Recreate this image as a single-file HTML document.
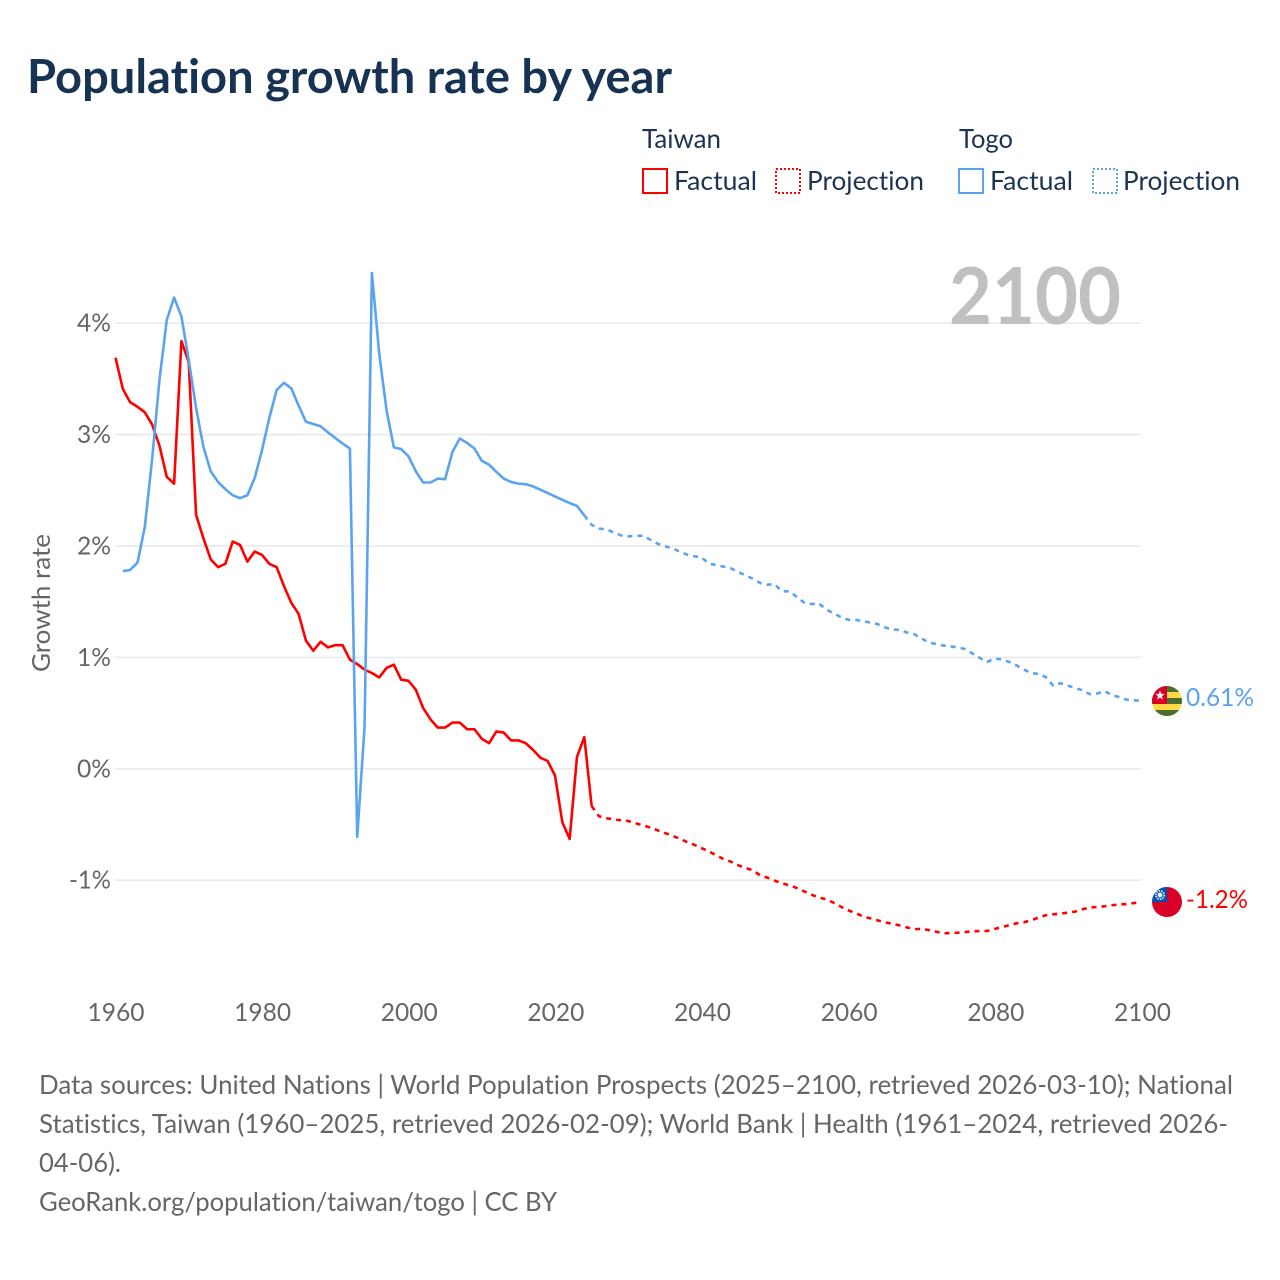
<!DOCTYPE html>
<html lang="en">
<head>
<meta charset="utf-8">
<title>Population growth rate by year</title>
<style>
  html, body { margin: 0; padding: 0; background: #fff; }
  body { width: 1280px; height: 1280px; overflow: hidden; }
  svg { display: block; }
  text { font-family: "Lato", "Carlito", "Liberation Sans", sans-serif; font-variant-ligatures: none; }
</style>
</head>
<body>
<svg id="chart" xmlns="http://www.w3.org/2000/svg" width="1280" height="1280" viewBox="0 0 1280 1280">
  <rect x="0" y="0" width="1280" height="1280" fill="#ffffff"/>
  <text x="27" y="93" font-size="47" font-weight="700" fill="#173353" textLength="645" lengthAdjust="spacingAndGlyphs">Population growth rate by year</text>

  <g font-size="26" fill="#1c3352">
    <text x="642" y="148" textLength="79" lengthAdjust="spacingAndGlyphs">Taiwan</text>
    <text x="959" y="148" textLength="54" lengthAdjust="spacingAndGlyphs">Togo</text>
    <g>
      <rect x="643" y="169" width="24" height="24" fill="none" stroke="#ff0000" stroke-width="2"/>
      <text x="674" y="190" textLength="83" lengthAdjust="spacingAndGlyphs">Factual</text>
    </g>
    <g>
      <rect x="776" y="169" width="24" height="24" fill="none" stroke="#ff0000" stroke-width="2" stroke-dasharray="2 2"/>
      <text x="807" y="190" textLength="117" lengthAdjust="spacingAndGlyphs">Projection</text>
    </g>
    <g>
      <rect x="959" y="169" width="24" height="24" fill="none" stroke="#5ba3ee" stroke-width="2"/>
      <text x="990" y="190" textLength="83" lengthAdjust="spacingAndGlyphs">Factual</text>
    </g>
    <g>
      <rect x="1093" y="169" width="24" height="24" fill="none" stroke="#5ba3ee" stroke-width="2" stroke-dasharray="2 2"/>
      <text x="1123" y="190" textLength="117" lengthAdjust="spacingAndGlyphs">Projection</text>
    </g>
  </g>

  <g id="grid"></g>
  <text x="949" y="324" font-size="79" font-weight="700" fill="#bfc0bf" textLength="172" lengthAdjust="spacingAndGlyphs">2100</text>
  <g id="yLabels" font-size="25" fill="#666666"></g>
  <g id="xLabels" font-size="25" fill="#666666"></g>
  <text transform="translate(50 603) rotate(-90)" text-anchor="middle" font-size="25" fill="#666666" textLength="138" lengthAdjust="spacingAndGlyphs">Growth rate</text>
  <g id="series"></g>

  <g>
    <clipPath id="clipTogo"><circle cx="1167" cy="701" r="15"/></clipPath>
    <g clip-path="url(#clipTogo)">
      <rect x="1152" y="686" width="30" height="30" fill="#ffda44"/>
      <rect x="1152" y="686" width="30" height="6" fill="#496e2d"/>
      <rect x="1152" y="698" width="30" height="6" fill="#496e2d"/>
      <rect x="1152" y="710" width="30" height="6" fill="#496e2d"/>
      <rect x="1152" y="686" width="15" height="18" fill="#d80027"/>
      <polygon points="1160,690.5 1161.3,693.9 1164.8,693.9 1162,696.1 1163,699.5 1160,697.5 1157,699.5 1158,696.1 1155.2,693.9 1158.7,693.9" fill="#f0f0f0"/>
    </g>
    <text x="1186" y="706" font-size="25" fill="#5ba3ee" textLength="68" lengthAdjust="spacingAndGlyphs">0.61%</text>
  </g>
  <g>
    <clipPath id="clipTaiwan"><circle cx="1167" cy="902" r="15"/></clipPath>
    <g clip-path="url(#clipTaiwan)">
      <rect x="1152" y="887" width="30" height="30" fill="#d80027"/>
      <rect x="1152" y="887" width="15" height="15" fill="#0052b4"/>
      <circle cx="1160" cy="895" r="4.2" fill="none" stroke="#f0f0f0" stroke-width="1.6" stroke-dasharray="1.6 1"/>
      <circle cx="1160" cy="895" r="2.4" fill="#f0f0f0"/>
    </g>
    <text x="1186" y="908" font-size="25" fill="#ff0000" textLength="62" lengthAdjust="spacingAndGlyphs">-1.2%</text>
  </g>

  <g font-size="26" fill="#666666">
    <text x="39" y="1094" textLength="1194" lengthAdjust="spacingAndGlyphs">Data sources: United Nations | World Population Prospects (2025–2100, retrieved 2026-03-10); National</text>
    <text x="39" y="1133" textLength="1189" lengthAdjust="spacingAndGlyphs">Statistics, Taiwan (1960–2025, retrieved 2026-02-09); World Bank | Health (1961–2024, retrieved 2026-</text>
    <text x="39" y="1172" textLength="82" lengthAdjust="spacingAndGlyphs">04-06).</text>
    <text x="39" y="1211" textLength="518" lengthAdjust="spacingAndGlyphs">GeoRank.org/population/taiwan/togo | CC BY</text>
  </g>
</svg>
<script>
const xTicks = [1960, 1980, 2000, 2020, 2040, 2060, 2080, 2100];
const yTicks = [-1, 0, 1, 2, 3, 4];

const taiwanFactualStart = 1960;
const taiwanFactual = [3.69, 3.41, 3.29, 3.25, 3.20, 3.09, 2.90, 2.62, 2.56, 3.84,
  3.65, 2.28, 2.07, 1.88, 1.81, 1.84, 2.04, 2.01, 1.86, 1.95,
  1.92, 1.84, 1.81, 1.64, 1.49, 1.39, 1.15, 1.06, 1.14, 1.09,
  1.11, 1.11, 0.98, 0.94, 0.89, 0.86, 0.82, 0.905, 0.935, 0.80,
  0.79, 0.71, 0.545, 0.444, 0.37, 0.37, 0.415, 0.415, 0.355, 0.355,
  0.27, 0.23, 0.335, 0.325, 0.255, 0.255, 0.23, 0.17, 0.10, 0.07,
  -0.06, -0.48, -0.63, 0.105, 0.285, -0.335];

const taiwanProjectionStart = 2025;
const taiwanProjection = [-0.335, -0.426, -0.444, -0.453, -0.462, -0.469,
  -0.489, -0.507, -0.528, -0.552, -0.576, -0.60, -0.627, -0.657, -0.681, -0.711,
  -0.741, -0.776, -0.81, -0.833, -0.866, -0.89, -0.911, -0.956, -0.977, -1.004,
  -1.028, -1.046, -1.07, -1.10, -1.129, -1.156, -1.171, -1.201, -1.237, -1.27,
  -1.294, -1.324, -1.342, -1.36, -1.378, -1.39, -1.405, -1.423, -1.438, -1.438,
  -1.447, -1.462, -1.477, -1.474, -1.471, -1.465, -1.459, -1.456, -1.456, -1.438,
  -1.42, -1.405, -1.387, -1.378, -1.36, -1.336, -1.315, -1.306, -1.30, -1.291,
  -1.282, -1.261, -1.246, -1.24, -1.234, -1.225, -1.219, -1.214, -1.205, -1.196];

const togoFactualStart = 1961;
const togoFactual = [1.775, 1.785, 1.85, 2.17, 2.78, 3.49, 4.03, 4.23, 4.06,
  3.67, 3.24, 2.89, 2.67, 2.575, 2.51, 2.455, 2.43, 2.455, 2.61,
  2.86, 3.15, 3.40, 3.465, 3.415, 3.26, 3.115, 3.095, 3.075, 3.02,
  2.97, 2.92, 2.875, -0.61, 0.375, 4.45, 3.73, 3.22, 2.885, 2.87,
  2.805, 2.67, 2.57, 2.57, 2.605, 2.60, 2.845, 2.965, 2.925, 2.875,
  2.765, 2.73, 2.665, 2.605, 2.575, 2.56, 2.555, 2.535, 2.505, 2.475,
  2.445, 2.415, 2.385, 2.36, 2.275];

const togoProjectionStart = 2024;
const togoProjection = [2.275, 2.19, 2.156, 2.15, 2.123, 2.096, 2.087,
  2.09, 2.093, 2.057, 2.021, 1.997, 1.982, 1.95, 1.923, 1.908, 1.898,
  1.842, 1.83, 1.815, 1.80, 1.767, 1.737, 1.707, 1.668, 1.653, 1.656,
  1.593, 1.593, 1.543, 1.492, 1.479, 1.485, 1.432, 1.396, 1.363, 1.339,
  1.336, 1.327, 1.312, 1.30, 1.27, 1.252, 1.246, 1.225, 1.21, 1.171,
  1.136, 1.12, 1.106, 1.10, 1.088, 1.075, 1.034, 0.995, 0.959, 0.989,
  0.983, 0.959, 0.929, 0.891, 0.86, 0.851, 0.824, 0.747, 0.768, 0.747,
  0.725, 0.705, 0.671, 0.675, 0.698, 0.662, 0.644, 0.621, 0.615, 0.61];

const SVG_NS = 'http://www.w3.org/2000/svg';
function xScale(year) { return 115.5 + (year - 1960) * (1141 - 115.5) / 140; }
function yScale(value) { return 768.8 - value * 111.4; }
function pathFor(values, startYear) {
  return values.map(function (v, i) {
    return (i ? 'L' : 'M') + xScale(startYear + i).toFixed(2) + ' ' + yScale(v).toFixed(2);
  }).join(' ');
}

const grid = document.getElementById('grid');
const yLabels = document.getElementById('yLabels');
const xLabels = document.getElementById('xLabels');
const seriesGroup = document.getElementById('series');

yTicks.forEach(function (t) {
  const line = document.createElementNS(SVG_NS, 'line');
  
  
  line.setAttribute('x1', 115);
  line.setAttribute('x2', 1141);
  line.setAttribute('y1', yScale(t));
  line.setAttribute('y2', yScale(t));
  line.setAttribute('stroke', '#e9e9e9');
  line.setAttribute('stroke-width', '1.6');
  grid.appendChild(line);

  const label = document.createElementNS(SVG_NS, 'text');
  
  
  label.setAttribute('x', 111);
  label.setAttribute('y', yScale(t) + 8.5);
  label.setAttribute('text-anchor', 'end');
  label.setAttribute('textLength', t < 0 ? 42 : 34);
  label.setAttribute('lengthAdjust', 'spacingAndGlyphs');
  label.textContent = t + '%';
  yLabels.appendChild(label);
});

xTicks.forEach(function (t) {
  const label = document.createElementNS(SVG_NS, 'text');
  
  
  label.setAttribute('x', xScale(t) + 0.5 + (t - 1960) * 0.007);
  label.setAttribute('y', 1021);
  label.setAttribute('text-anchor', 'middle');
  label.setAttribute('textLength', 57);
  label.setAttribute('lengthAdjust', 'spacingAndGlyphs');
  label.textContent = String(t);
  xLabels.appendChild(label);
});

function drawLine(name, values, startYear, color, dashed) {
  const p = document.createElementNS(SVG_NS, 'path');
  
  
  p.setAttribute('d', pathFor(values, startYear));
  p.setAttribute('fill', 'none');
  p.setAttribute('stroke', color);
  p.setAttribute('stroke-width', '2.6');
  p.setAttribute('stroke-linejoin', 'round');
  if (dashed) { p.setAttribute('stroke-dasharray', '5 5'); }
  seriesGroup.appendChild(p);
}

drawLine('taiwan-factual-line', taiwanFactual, taiwanFactualStart, '#ff0000', false);
drawLine('taiwan-projection-line', taiwanProjection, taiwanProjectionStart, '#ff0000', true);
drawLine('togo-factual-line', togoFactual, togoFactualStart, '#5ba3ee', false);
drawLine('togo-projection-line', togoProjection, togoProjectionStart, '#5ba3ee', true);
</script>
</body>
</html>
